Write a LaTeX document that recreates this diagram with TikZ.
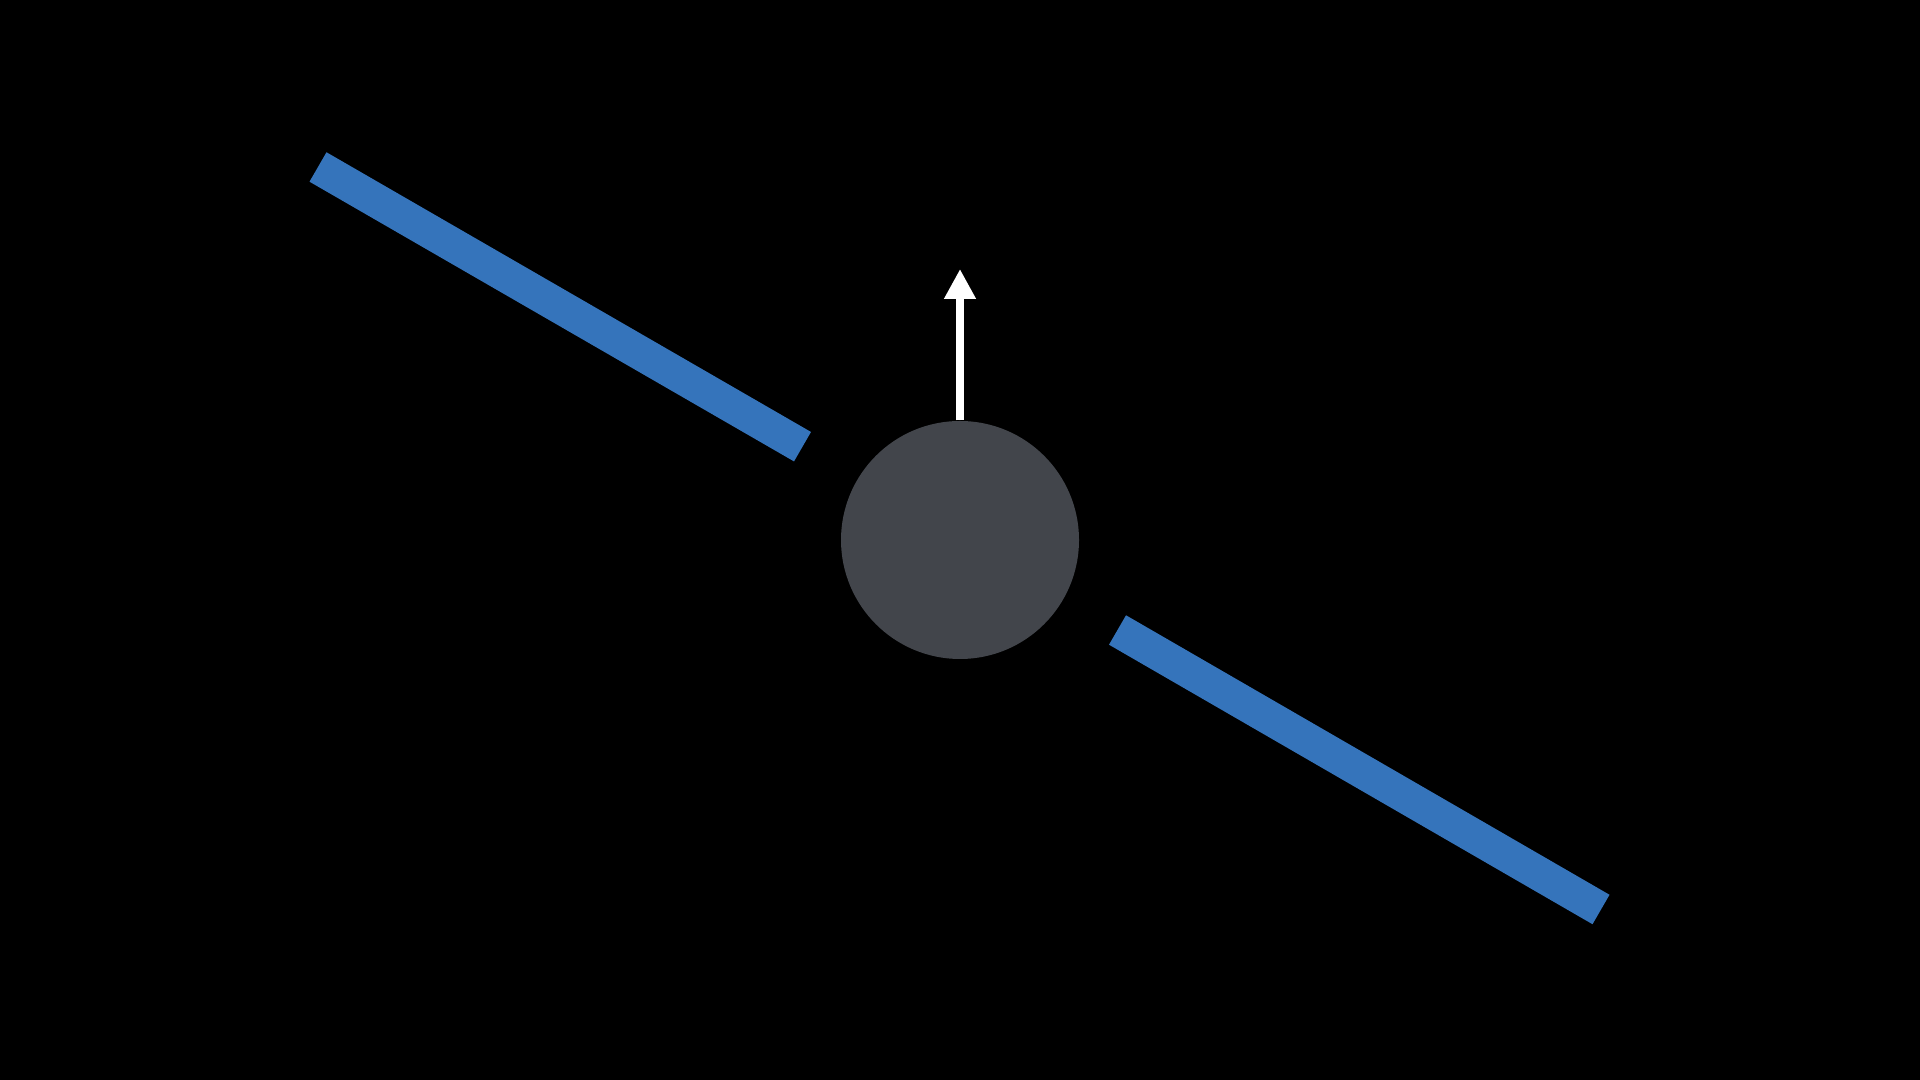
\documentclass[tikz,border=0pt]{standalone}
\usetikzlibrary{arrows.meta}
\definecolor{barblue}{HTML}{3574BB}
\definecolor{ballgray}{HTML}{42454B}
\begin{document}
\begin{tikzpicture}[bar/.style={barblue, line width=0.34cm}]
    \fill[black] (0,0) rectangle (19.2,10.8);
    \node[circle, fill=ballgray, inner sep=0, minimum size=2.38cm] (ball) at (9.6,5.4) {};
    \coordinate (tip) at (9.6,8.11);
    \draw[white, line width=0.08cm, -{Triangle[length=0.3cm, width=0.3cm]}] (ball.north) -- (tip);
    \coordinate (a1) at (3.18,9.13);
    \coordinate (a2) at (8.025,6.333);
    \coordinate (b1) at (11.175,4.50);
    \coordinate (b2) at (16.01,1.705);
    \draw[bar] (a1) -- (a2);
    \draw[bar] (b1) -- (b2);
  \end{tikzpicture}
\end{document}
